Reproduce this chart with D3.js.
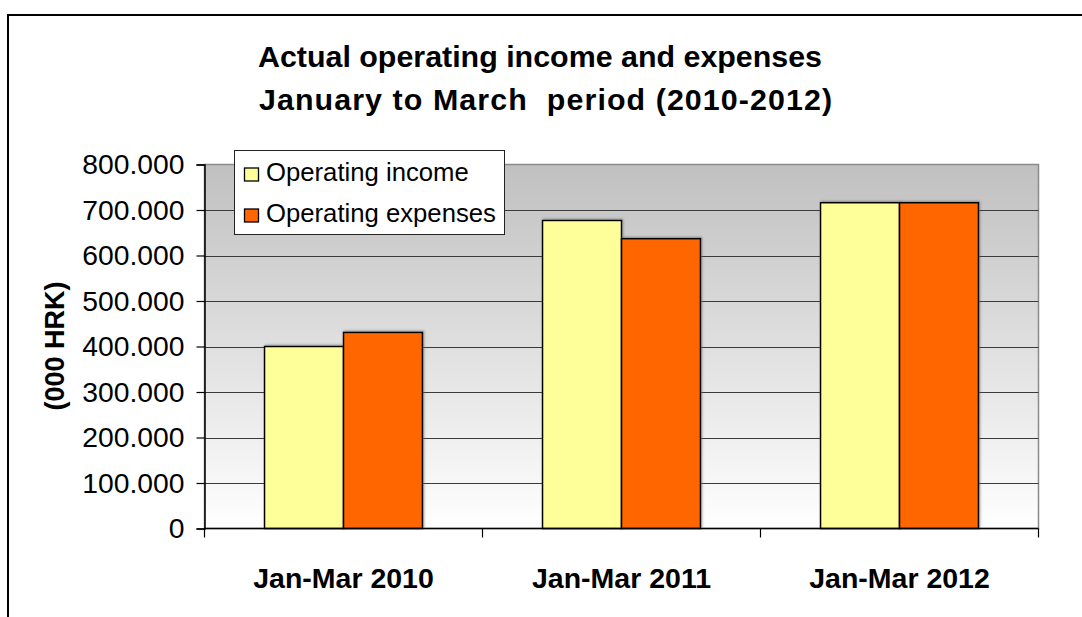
<!DOCTYPE html>
<html>
<head>
<meta charset="utf-8">
<script src="https://cdn.jsdelivr.net/npm/d3@7"></script>
<style>
  html, body { margin: 0; padding: 0; background: #fff; }
  svg { display: block; font-family: "Liberation Sans", Arial, sans-serif; }
</style>
</head>
<body>
<svg id="chart" width="1082" height="617"></svg>
<script>
// Quarterly figures, thousands of HRK
const categories = ["Jan-Mar 2010", "Jan-Mar 2011", "Jan-Mar 2012"];
const seriesNames = ["Operating income", "Operating expenses"];
const operatingIncome = [400000, 677000, 716000];
const operatingExpenses = [431000, 637000, 716000];
const yTicks = [0, 100000, 200000, 300000, 400000, 500000, 600000, 700000, 800000];
const titleLines = ["Actual operating income and expenses", "January to March  period (2010-2012)"];
const yAxisTitle = "(000 HRK)";
const seriesColors = ["#ffff99", "#ff6600"];

const svg = d3.select("#chart");

// Outer chart frame
svg.append("rect")
  .attr("x", 8).attr("y", 15)
  .attr("width", 1200).attr("height", 800)
  .attr("fill", "#fff").attr("stroke", "#000").attr("stroke-width", 2);

const plot = { left: 204.5, right: 1038.5, top: 164.5, bottom: 528.5 };

const defs = svg.append("defs");
const grad = defs.append("linearGradient")
  .attr("id", "plotBg").attr("x1", 0).attr("y1", 0).attr("x2", 0).attr("y2", 1);
grad.append("stop").attr("offset", "0%").attr("stop-color", "#c0c0c0");
grad.append("stop").attr("offset", "100%").attr("stop-color", "#ffffff");

const shadow = defs.append("filter").attr("id", "barShadow")
  .attr("x", "-10%").attr("y", "-10%").attr("width", "120%").attr("height", "120%");
shadow.append("feDropShadow")
  .attr("dx", 1).attr("dy", -1).attr("stdDeviation", 0.8)
  .attr("flood-color", "#666").attr("flood-opacity", 0.6);

const y = d3.scaleLinear().domain([0, 800000]).range([plot.bottom, plot.top]);
const x0 = d3.scaleBand().domain(categories).range([plot.left, plot.right]).padding(0);
const x1 = d3.scaleBand().domain(seriesNames).range([0, x0.bandwidth()])
  .paddingInner(0).paddingOuter(0.76);

// Plot background
svg.append("rect")
  .attr("x", plot.left).attr("y", plot.top)
  .attr("width", plot.right - plot.left).attr("height", plot.bottom - plot.top)
  .attr("fill", "url(#plotBg)")
  .attr("stroke", "#8a8a8a").attr("stroke-width", 1.5);

// Horizontal gridlines
svg.append("g")
  .selectAll("line")
  .data(yTicks.filter(d => d > 0 && d < 800000))
  .join("line")
  .attr("x1", plot.left).attr("x2", plot.right)
  .attr("y1", d => Math.round(y(d)) + 0.5).attr("y2", d => Math.round(y(d)) + 0.5)
  .attr("stroke", "#3a3a3a").attr("stroke-width", 1);

// Bars
const rows = categories.map((c, i) => ({ cat: c, values: [operatingIncome[i], operatingExpenses[i]] }));
const groups = svg.append("g").selectAll("g")
  .data(rows).join("g")
  .attr("transform", d => `translate(${x0(d.cat)},0)`);
groups.selectAll("rect")
  .data(d => d.values.map((v, k) => ({ name: seriesNames[k], value: v, k })))
  .join("rect")
  .attr("x", d => x1(d.name))
  .attr("y", d => y(d.value))
  .attr("width", x1.bandwidth())
  .attr("height", d => y(0) - y(d.value))
  .attr("fill", d => seriesColors[d.k])
  .attr("stroke", "#000").attr("stroke-width", 1.5)
  .attr("filter", "url(#barShadow)");

// Y axis
const yAxis = d3.axisLeft(y).tickValues(yTicks).tickSize(8).tickPadding(12)
  .tickFormat(d => d === 0 ? "0" : d3.format(",")(d).replace(/,/g, "."));
const yg = svg.append("g").attr("transform", `translate(${plot.left},0)`).call(yAxis);
yg.select(".domain").attr("stroke", "#000").attr("stroke-width", 1.5);
yg.selectAll(".tick line").attr("stroke", "#000").attr("stroke-width", 1.2);
yg.selectAll(".tick text")
  .attr("font-size", 28.3).attr("fill", "#000")
  .attr("font-family", "Liberation Sans, Arial, sans-serif");

// X axis with ticks at category boundaries
const xg = svg.append("g").attr("transform", `translate(0,${plot.bottom})`);
xg.append("line")
  .attr("x1", plot.left).attr("x2", plot.right).attr("y1", 0).attr("y2", 0)
  .attr("stroke", "#000").attr("stroke-width", 1.5);
const boundaries = categories.map(c => x0(c)).concat([x0(categories[categories.length - 1]) + x0.bandwidth()]);
xg.selectAll("line.tk").data(boundaries).join("line").attr("class", "tk")
  .attr("x1", d => d).attr("x2", d => d).attr("y1", 0).attr("y2", 9)
  .attr("stroke", "#000").attr("stroke-width", 1.2);
xg.selectAll("text").data(categories).join("text")
  .attr("x", d => x0(d) + x0.bandwidth() / 2)
  .attr("y", 59)
  .attr("text-anchor", "middle")
  .attr("font-size", 28.5).attr("font-weight", "bold").attr("fill", "#000")
  .text(d => d);

// Y axis title
svg.append("text")
  .attr("transform", "translate(64,346) rotate(-90)")
  .attr("text-anchor", "middle")
  .attr("font-size", 27).attr("font-weight", "bold").attr("fill", "#000")
  .text(yAxisTitle);

// Chart title (second line stretched to the same span as the first's layout)
const titleWidths = [564, 573];
svg.append("g").selectAll("text").data(titleLines).join("text")
  .attr("x", (d, i) => i === 0 ? 540 : 545.5)
  .attr("y", (d, i) => 67 + i * 43)
  .attr("text-anchor", "middle")
  .attr("font-size", 30.4).attr("font-weight", "bold").attr("fill", "#000")
  .attr("textLength", (d, i) => titleWidths[i])
  .attr("lengthAdjust", "spacing")
  .style("white-space", "pre")
  .text(d => d);

// Legend
const legend = svg.append("g");
legend.append("rect")
  .attr("x", 234.5).attr("y", 150.5).attr("width", 270).attr("height", 84)
  .attr("fill", "#fff").attr("stroke", "#222").attr("stroke-width", 1);
const items = legend.selectAll("g.item").data(seriesNames).join("g").attr("class", "item")
  .attr("transform", (d, i) => `translate(0,${i * 41})`);
items.append("rect")
  .attr("x", 244.5).attr("y", 168).attr("width", 14).attr("height", 13)
  .attr("fill", (d, i) => seriesColors[i]).attr("stroke", "#000").attr("stroke-width", 1.3);
items.append("text")
  .attr("x", 266).attr("y", 181)
  .attr("font-size", 25.7).attr("fill", "#000")
  .text(d => d);
</script>
</body>
</html>
